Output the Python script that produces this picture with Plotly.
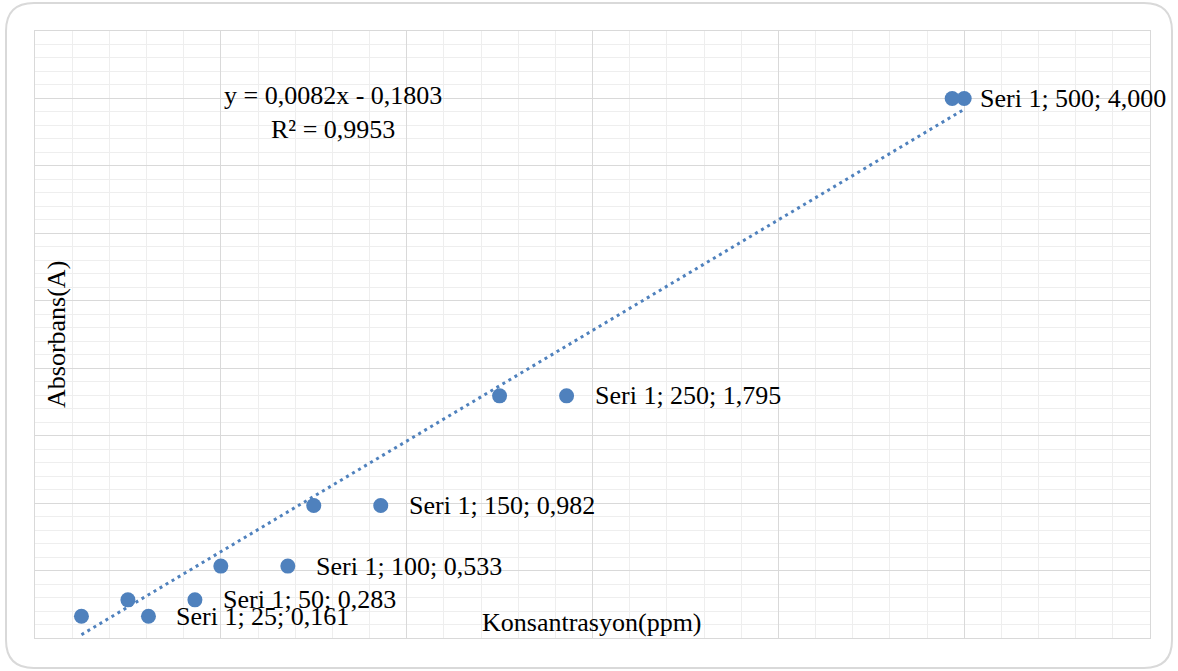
import plotly.graph_objects as go

# ---- data ----
series_name = "Seri 1"
konsantrasyon = [25, 50, 100, 150, 250, 500]          # ppm
absorbans = [0.161, 0.283, 0.533, 0.982, 1.795, 4.000]  # A
slope = 0.0082
intercept = -0.1803
r2 = 0.9953
x_title = "Konsantrasyon(ppm)"
y_title = "Absorbans(A)"

# ---- layout constants ----
W, H = 1178, 671
L, R, T, B = 35, 28, 31, 33
PW, PH = W - L - R, H - T - B
BLUE = "#4F81BD"
FONT = "Liberation Serif, Times New Roman, serif"
key_dx = [67, 67, 67, 67, 67, -12]   # pixel offset of each label's key marker
text_gap = 26                         # key centre -> text start, px
key_r = 7.5

def fmt(v, nd):
    return f"{v:.{nd}f}".replace(".", ",")

fig = go.Figure()

# trendline
tx = [min(konsantrasyon), max(konsantrasyon)]
ty = [slope * x + intercept for x in tx]
fig.add_trace(go.Scatter(x=tx, y=ty, mode="lines",
                         line=dict(color=BLUE, width=3, dash="3px,4px"),
                         hoverinfo="skip", showlegend=False))

# data points
fig.add_trace(go.Scatter(x=konsantrasyon, y=absorbans, mode="markers",
                         marker=dict(color=BLUE, size=15),
                         showlegend=False, name=series_name))

shapes = []
annotations = []
for x, y, dx in zip(konsantrasyon, absorbans, key_dx):
    shapes.append(dict(type="circle", xref="x", yref="y",
                       xsizemode="pixel", ysizemode="pixel",
                       xanchor=x, yanchor=y,
                       x0=dx - key_r, x1=dx + key_r, y0=-key_r, y1=key_r,
                       fillcolor=BLUE, line=dict(width=0)))
    annotations.append(dict(x=x, y=y, xref="x", yref="y",
                            text=f"{series_name}; {x}; {fmt(y, 3)}",
                            showarrow=False, xanchor="left", yanchor="middle",
                            xshift=dx + text_gap, yshift=0,
                            font=dict(family=FONT, size=26, color="black")))

# trendline equation
annotations.append(dict(x=(333 - L) / PW, y=(638 - 112) / PH, xref="paper", yref="paper",
                        text=f"y = {fmt(slope, 4)}x - {fmt(-intercept, 4)}<br>R² = {fmt(r2, 4)}",
                        showarrow=False, align="center", xanchor="center", yanchor="middle",
                        font=dict(family=FONT, size=26, color="black")))
# axis titles (inside plot area, as in the reference)
annotations.append(dict(x=(56 - L) / PW, y=(638 - 335) / PH, xref="paper", yref="paper",
                        text=y_title, textangle=-90, showarrow=False,
                        xanchor="center", yanchor="middle",
                        font=dict(family=FONT, size=26, color="black")))
annotations.append(dict(x=(592 - L) / PW, y=(638 - 622) / PH, xref="paper", yref="paper",
                        text=x_title, showarrow=False,
                        xanchor="center", yanchor="middle",
                        font=dict(family=FONT, size=26, color="black")))

# outer rounded border
def px(xp): return (xp - L) / PW
def py(yp): return (638 - yp) / PH
x0, x1, y0, y1, rr = 6, 1172, 3, 668, 28
path = (f"M {px(x0+rr)},{py(y0)} L {px(x1-rr)},{py(y0)} "
        f"Q {px(x1)},{py(y0)} {px(x1)},{py(y0+rr)} "
        f"L {px(x1)},{py(y1-rr)} Q {px(x1)},{py(y1)} {px(x1-rr)},{py(y1)} "
        f"L {px(x0+rr)},{py(y1)} Q {px(x0)},{py(y1)} {px(x0)},{py(y1-rr)} "
        f"L {px(x0)},{py(y0+rr)} Q {px(x0)},{py(y0)} {px(x0+rr)},{py(y0)} Z")
shapes.append(dict(type="path", xref="paper", yref="paper", path=path,
                   line=dict(color="#D9D9D9", width=2), layer="below"))

axis_common = dict(showticklabels=False, ticks="", zeroline=False,
                   showline=True, mirror=True, linecolor="#D9D9D9", linewidth=1,
                   showgrid=True, gridcolor="#D9D9D9", gridwidth=1)
fig.update_layout(
    width=W, height=H,
    margin=dict(l=L, r=R, t=T, b=B),
    paper_bgcolor="white", plot_bgcolor="white",
    xaxis=dict(range=[0, 600], dtick=100,
               minor=dict(dtick=20, showgrid=True, gridcolor="#EEEEEE", gridwidth=1),
               **axis_common),
    yaxis=dict(range=[0, 4.5], dtick=0.5,
               minor=dict(dtick=0.1, showgrid=True, gridcolor="#EEEEEE", gridwidth=1),
               **axis_common),
    shapes=shapes, annotations=annotations,
    showlegend=False,
)

fig.write_html("out.html", config={"displayModeBar": False},
               post_script="document.body.style.margin='0';document.body.style.overflow='hidden';")
